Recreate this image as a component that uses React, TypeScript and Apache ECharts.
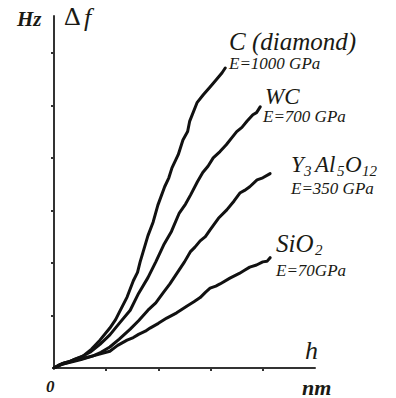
import React, { useEffect, useRef } from "react";
import * as echarts from "echarts";

// depth h (axis units, 0..5) vs frequency shift Δf (axis units, 0..6.7)
const diamondH = [0, 0.12, 0.25, 0.4, 0.56, 0.72, 0.88, 1.07, 1.18, 1.25, 1.4, 1.52, 1.6, 1.65, 1.8, 1.9, 1.99, 2.12, 2.2, 2.26, 2.38, 2.47, 2.56, 2.6, 2.74, 2.86, 2.99, 3.12, 3.22, 3.28];
const diamondF = [0, 0.06, 0.1, 0.17, 0.23, 0.36, 0.53, 0.76, 0.92, 1.06, 1.35, 1.66, 1.82, 2.02, 2.52, 2.78, 3.1, 3.45, 3.62, 3.81, 4.06, 4.34, 4.5, 4.7, 5.05, 5.2, 5.35, 5.5, 5.62, 5.71];

const wcH = [0, 0.15, 0.31, 0.5, 0.69, 0.88, 1.07, 1.25, 1.46, 1.62, 1.8, 1.95, 2.1, 2.25, 2.4, 2.52, 2.62, 2.75, 2.85, 2.95, 3.05, 3.18, 3.3, 3.42, 3.5, 3.6, 3.7, 3.81, 3.88, 3.95];
const wcF = [0, 0.08, 0.13, 0.2, 0.3, 0.45, 0.63, 0.85, 1.1, 1.42, 1.72, 2.02, 2.34, 2.6, 2.95, 3.12, 3.3, 3.55, 3.72, 3.84, 4.0, 4.12, 4.25, 4.4, 4.5, 4.58, 4.7, 4.82, 4.86, 4.97];

const yagH = [0, 0.15, 0.31, 0.52, 0.75, 0.9, 1.07, 1.25, 1.46, 1.62, 1.8, 1.95, 2.09, 2.22, 2.36, 2.5, 2.61, 2.7, 2.8, 2.9, 2.99, 3.15, 3.31, 3.45, 3.56, 3.65, 3.75, 3.89, 4.0, 4.14];
const yagF = [0, 0.07, 0.11, 0.16, 0.23, 0.3, 0.4, 0.55, 0.74, 0.9, 1.1, 1.24, 1.43, 1.6, 1.81, 2.02, 2.21, 2.3, 2.42, 2.5, 2.63, 2.85, 3.01, 3.18, 3.33, 3.38, 3.45, 3.58, 3.62, 3.7];

const sioH = [0, 0.1, 0.21, 0.35, 0.5, 0.66, 0.82, 1.07, 1.22, 1.4, 1.52, 1.62, 1.75, 1.84, 2.0, 2.16, 2.35, 2.55, 2.68, 2.8, 2.9, 2.99, 3.1, 3.18, 3.37, 3.55, 3.65, 3.75, 3.88, 4.0, 4.08, 4.14];
const sioF = [0, 0.06, 0.1, 0.13, 0.17, 0.21, 0.25, 0.32, 0.43, 0.53, 0.58, 0.64, 0.7, 0.76, 0.85, 0.95, 1.05, 1.18, 1.26, 1.34, 1.44, 1.52, 1.56, 1.6, 1.71, 1.8, 1.86, 1.92, 1.96, 2.02, 2.03, 2.1];

const xTicks = [1, 2, 3, 4];
const yTicks = [1, 2, 3, 4, 5, 6];

const pairs = (xs: number[], ys: number[]) => xs.map((x, i) => [x, ys[i]]);

const FAM = "Liberation Serif";
const INK = "#1a1a14";

function txt(x: number, y: number, text: string, size: number, opts: { bold?: boolean; italic?: boolean } = {}) {
  const style: any = {
    text,
    fill: INK,
    fontFamily: FAM,
    fontSize: size,
    lineHeight: Math.round(size * 0.7),
    verticalAlign: "middle",
    align: "left",
  };
  if (opts.italic !== false) style.fontStyle = "italic";
  if (opts.bold) style.fontWeight = "bold";
  return { type: "text", x, y, style };
}

export default function App() {
  const ref = useRef<HTMLDivElement>(null);
  useEffect(() => {
    if (!ref.current) return;
    const chart = echarts.init(ref.current, null, { renderer: "svg" });
    const lineSeries = (name: string, xs: number[], ys: number[]) => ({
      name,
      type: "line",
      data: pairs(xs, ys),
      showSymbol: false,
      symbol: "none",
      smooth: false,
      lineStyle: { color: "#111", width: 3, join: "round", cap: "round" },
    });
    chart.setOption({
      animation: false,
      backgroundColor: "#fff",
      grid: { left: 54, right: 81, top: 16, bottom: 30 },
      xAxis: {
        type: "value",
        min: 0,
        max: 5,
        interval: 1,
        axisLine: { lineStyle: { color: "#333", width: 2 } },
        axisTick: { show: true, customValues: xTicks, length: 3, lineStyle: { color: "#333", width: 2 } },
        axisLabel: { show: false },
        splitLine: { show: false },
      },
      yAxis: {
        type: "value",
        min: 0,
        max: 6.7,
        interval: 1,
        axisLine: { show: true, lineStyle: { color: "#333", width: 2 } },
        axisTick: { show: true, customValues: yTicks, length: 3, lineStyle: { color: "#333", width: 2 } },
        axisLabel: { show: false },
        splitLine: { show: false },
      },
      series: [
        lineSeries("C (diamond)", diamondH, diamondF),
        lineSeries("WC", wcH, wcF),
        lineSeries("Y3Al5O12", yagH, yagF),
        lineSeries("SiO2", sioH, sioF),
      ],
      graphic: [
        txt(17, 19, "Hz", 21, { bold: true }),
        txt(64, 16, "Δ", 26, { italic: false }),
        txt(84, 17, "f", 26),
        txt(229, 41, "C (diamond)", 25),
        txt(229, 63, "E=1000 GPa", 17),
        txt(265, 96, "WC", 23),
        txt(263, 116, "E=700 GPa", 17),
        txt(291, 164, "Y", 23),
        txt(304, 171, "3", 15),
        txt(315, 164, "Al", 23),
        txt(337, 171, "5", 15),
        txt(345, 164, "O", 23),
        txt(362, 171, "12", 15),
        txt(291, 188, "E=350 GPa", 17),
        txt(276, 243, "SiO", 25),
        txt(315, 250, "2", 15),
        txt(276, 270, "E=70GPa", 17),
        txt(305, 350, "h", 26),
        txt(302, 387, "nm", 22, { bold: true }),
        txt(46, 386, "0", 17, { bold: true }),
      ],
    });
    return () => chart.dispose();
  }, []);
  return <div ref={ref} style={{ width: 396, height: 398, position: "fixed", left: 0, top: 0 }} />;
}
